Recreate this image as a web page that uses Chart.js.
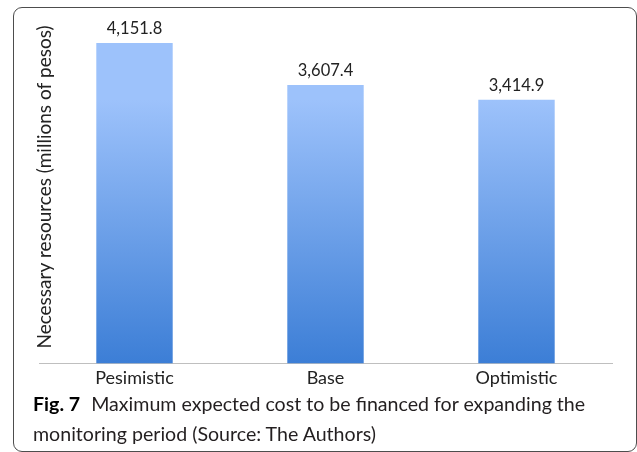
<!DOCTYPE html>
<html>
<head>
<meta charset="utf-8">
<script src="https://cdn.jsdelivr.net/npm/chart.js@4/dist/chart.umd.min.js"></script>
<style>
  html, body { margin: 0; padding: 0; background: #fff; }
  body { width: 637px; height: 452px; position: relative; overflow: hidden; }
  #frame {
    position: absolute; left: 13px; top: 7px; width: 624px; height: 445px;
    box-sizing: border-box; border: 1.5px solid #4d4d4d; border-radius: 9px;
  }
  #chartBox { position: absolute; left: 0; top: 0; width: 637px; height: 401px; }
  #caption {
    position: absolute; left: 33px; top: 389px; width: 600px; white-space: nowrap;
    font-family: Lato, "Open Sans", sans-serif; font-size: 19.6px; line-height: 30px;
    color: #231f20;
  }
  #caption b { color: #000; font-weight: 700; margin-right: 6px; }
</style>
</head>
<body>
<div id="frame"></div>
<div id="chartBox"><canvas id="costChart"></canvas></div>
<div id="caption"><b>Fig. 7</b> Maximum expected cost to be financed for expanding the<br>monitoring period (Source: The Authors)</div>

<script>
// Data
const scenarios = ['Pesimistic', 'Base', 'Optimistic'];
const costValues = [4151.8, 3607.4, 3414.9];
const yAxisTitle = 'Necessary resources (millions of pesos)';

// Value labels above each bar
const valueLabels = {
  id: 'valueLabels',
  afterDatasetsDraw(chart) {
    const { ctx } = chart;
    const meta = chart.getDatasetMeta(0);
    ctx.save();
    ctx.font = '16.5px Lato, sans-serif';
    ctx.fillStyle = '#222';
    ctx.textAlign = 'center';
    ctx.textBaseline = 'bottom';
    meta.data.forEach((bar, i) => {
      const txt = costValues[i].toLocaleString('en-US', { minimumFractionDigits: 1, maximumFractionDigits: 1 });
      ctx.fillText(txt, bar.x, bar.y - 6);
    });
    ctx.restore();
  }
};

// Vertical gradient on each bar, light at top, darker at base
const barGradient = {
  id: 'barGradient',
  beforeDatasetsDraw(chart) {
    const { ctx } = chart;
    chart.getDatasetMeta(0).data.forEach(bar => {
      const g = ctx.createLinearGradient(0, bar.y, 0, bar.base);
      g.addColorStop(0, '#9dc2fb');
      g.addColorStop(1, '#3c7ed6');
      bar.options.backgroundColor = g;
    });
  }
};

// Rotated y-axis title
const yTitle = {
  id: 'yTitle',
  afterDraw(chart) {
    const { ctx } = chart;
    ctx.save();
    ctx.translate(45, 187);
    ctx.rotate(-Math.PI / 2);
    ctx.font = '19px Lato, sans-serif';
    ctx.fillStyle = '#222';
    ctx.textAlign = 'center';
    ctx.textBaseline = 'middle';
    ctx.fillText(yAxisTitle, 0, 0);
    ctx.restore();
  }
};

new Chart(document.getElementById('costChart'), {
  type: 'bar',
  data: {
    labels: scenarios,
    datasets: [{
      data: costValues,
      backgroundColor: '#6a9de8',
      barPercentage: 0.4,
      categoryPercentage: 1
    }]
  },
  options: {
    responsive: true,
    maintainAspectRatio: false,
    animation: false,
    layout: { padding: { left: 39, right: 25, top: 16, bottom: 8 } },
    plugins: { legend: { display: false }, tooltip: { enabled: false } },
    scales: {
      x: {
        grid: { display: false, drawTicks: false, tickLength: 0 },
        border: { display: true, color: '#bfbfbf', width: 1 },
        ticks: { color: '#222', padding: 4, font: { family: 'Lato', size: 18 } }
      },
      y: { display: false, min: 0, max: 4500 }
    }
  },
  plugins: [barGradient, valueLabels, yTitle]
});
</script>
</body>
</html>
